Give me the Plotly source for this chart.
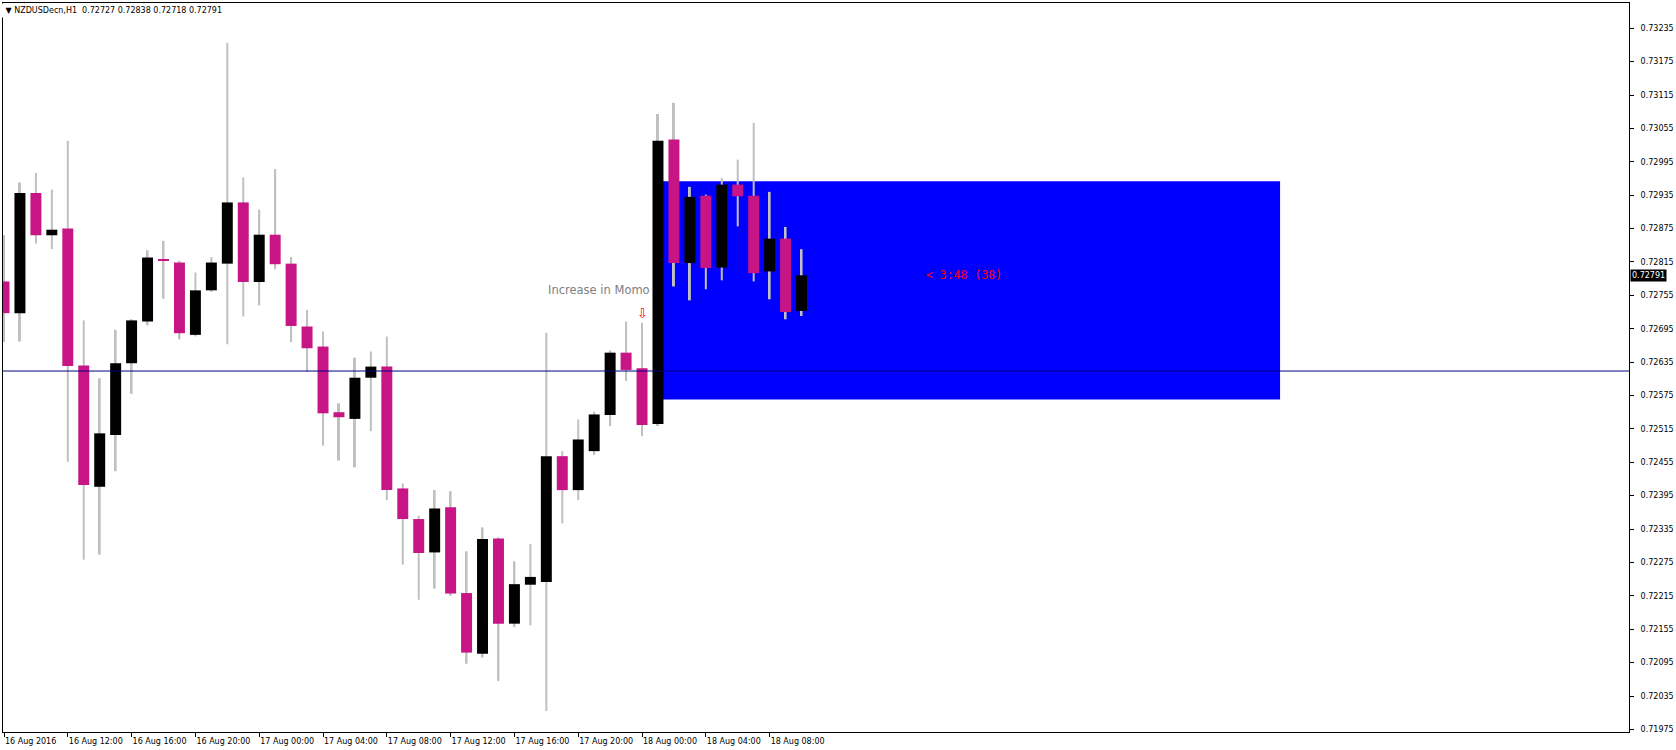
import pandas as pd
import plotly.graph_objects as go

# ---------------- data (NZDUSDecn, H1) ----------------
times = pd.date_range("2016-08-16 08:00", periods=51, freq="h")

opens = [0.72780, 0.72723, 0.72939, 0.72863, 0.72875, 0.72629, 0.72411, 0.72504, 0.72633, 0.72708,
         0.72820, 0.72814, 0.72684, 0.72764, 0.72812, 0.72922, 0.72779, 0.72864, 0.72812, 0.72699,
         0.72663, 0.72545, 0.72533, 0.72607, 0.72627, 0.72408, 0.72353, 0.72293, 0.72374, 0.72220,
         0.72111, 0.72318, 0.72165, 0.72235, 0.72240, 0.72466, 0.72405, 0.72475, 0.72540, 0.72652,
         0.72624, 0.72524, 0.73035, 0.72813, 0.72934, 0.72805, 0.72954, 0.72934, 0.72798, 0.72857,
         0.72727]
highs = [0.72863, 0.72958, 0.72975, 0.72945, 0.73033, 0.72710, 0.72606, 0.72693, 0.72712, 0.72836,
         0.72853, 0.72817, 0.72796, 0.72824, 0.73209, 0.72967, 0.72909, 0.72982, 0.72824, 0.72729,
         0.72690, 0.72561, 0.72643, 0.72654, 0.72681, 0.72417, 0.72359, 0.72405, 0.72403, 0.72295,
         0.72338, 0.72320, 0.72277, 0.72308, 0.72688, 0.72475, 0.72532, 0.72546, 0.72656, 0.72708,
         0.72706, 0.73081, 0.73101, 0.72950, 0.72936, 0.72966, 0.72999, 0.73065, 0.72941, 0.72878,
         0.72838]
lows = [0.72671, 0.72672, 0.72848, 0.72838, 0.72456, 0.72280, 0.72289, 0.72439, 0.72578, 0.72701,
        0.72749, 0.72676, 0.72681, 0.72761, 0.72667, 0.72717, 0.72737, 0.72802, 0.72671, 0.72617,
        0.72485, 0.72458, 0.72446, 0.72511, 0.72387, 0.72271, 0.72208, 0.72228, 0.72215, 0.72093,
        0.72104, 0.72062, 0.72159, 0.72162, 0.72008, 0.72345, 0.72387, 0.72468, 0.72520, 0.72601,
        0.72502, 0.72520, 0.72771, 0.72746, 0.72766, 0.72782, 0.72879, 0.72780, 0.72748, 0.72712,
        0.72718]
closes = [0.72723, 0.72939, 0.72863, 0.72873, 0.72628, 0.72414, 0.72507, 0.72633, 0.72710, 0.72823,
          0.72817, 0.72687, 0.72764, 0.72814, 0.72922, 0.72779, 0.72864, 0.72811, 0.72700, 0.72660,
          0.72543, 0.72536, 0.72607, 0.72627, 0.72405, 0.72353, 0.72292, 0.72372, 0.72219, 0.72113,
          0.72317, 0.72165, 0.72236, 0.72249, 0.72466, 0.72405, 0.72496, 0.72541, 0.72652, 0.72621,
          0.72522, 0.73033, 0.72813, 0.72932, 0.72804, 0.72954, 0.72933, 0.72795, 0.72857, 0.72725,
          0.72791]

x_tick_times = pd.date_range("2016-08-16 08:00", "2016-08-18 08:00", freq="4h")
x_tick_labels = ["16 Aug 2016", "16 Aug 12:00", "16 Aug 16:00", "16 Aug 20:00",
                 "17 Aug 00:00", "17 Aug 04:00", "17 Aug 08:00", "17 Aug 12:00",
                 "17 Aug 16:00", "17 Aug 20:00", "18 Aug 00:00", "18 Aug 04:00",
                 "18 Aug 08:00"]
y_tick_values = [round(0.71975 + 0.0006 * k, 5) for k in range(22)]

level_line = 0.72619
zone_start = times[41]
zone_end = pd.Timestamp("2016-08-19 16:00")
zone_top = 0.72960
zone_bottom = 0.72568
signal_bar = 40
signal_price = 0.72722
signal_text = "Increase in Momo"
countdown_text = "< 3:48 (38)"
countdown_time = pd.Timestamp("2016-08-18 17:40")
title_text = "\u00a0\u25bc NZDUSDecn,H1 \u00a00.72727 0.72838 0.72718 0.72791"

# ---------------- styling ----------------
BULL = "#000000"
BEAR = "#C71585"
WICK = "#C0C0C0"
HOUR_MS = 3600000
FONT = "DejaVu Sans"

body_base = [min(o, c) for o, c in zip(opens, closes)]
body_len = [max(abs(c - o), 0.00002) for o, c in zip(opens, closes)]
body_col = [BULL if c >= o else BEAR for o, c in zip(opens, closes)]
wick_len = [h - l for h, l in zip(highs, lows)]

fig = go.Figure()
fig.add_trace(go.Bar(x=times, y=wick_len, base=lows, width=HOUR_MS * 2 / 16,
                     marker=dict(color=WICK, line=dict(width=0)), hoverinfo="skip"))
fig.add_trace(go.Bar(x=times, y=body_len, base=body_base, width=HOUR_MS * 11 / 16,
                     marker=dict(color=body_col, line=dict(width=0)), hoverinfo="skip"))

x_start = times[0] - pd.Timedelta(minutes=3.75)
x_end = x_start + pd.Timedelta(hours=1631 / 16)

fig.update_layout(
    width=1676, height=750,
    margin=dict(l=2, r=43, t=2, b=18),
    paper_bgcolor="white", plot_bgcolor="white",
    barmode="overlay", showlegend=False,
    font=dict(family=FONT, size=8, color="black"),
    xaxis=dict(type="date", range=[x_start, x_end], showgrid=False, zeroline=False,
               showline=True, linecolor="black", linewidth=1, mirror=True,
               ticks="outside", ticklen=4, tickcolor="black", tickwidth=1,
               tickvals=list(x_tick_times), ticktext=x_tick_labels,
               ticklabelposition="outside right", ticklabelstandoff=1,
               tickfont=dict(family=FONT, size=8, color="black")),
    yaxis=dict(side="right", range=[0.719703, 0.732804], showgrid=False, zeroline=False,
               showline=True, linecolor="black", linewidth=1, mirror=True,
               ticks="outside", ticklen=4, tickcolor="black", tickwidth=1,
               tickvals=y_tick_values, tickformat=".5f", ticklabelstandoff=5,
               tickfont=dict(family=FONT, size=8, color="black")),
)

fig.add_shape(type="rect", xref="x", yref="y", x0=zone_start, x1=zone_end,
              y0=zone_bottom, y1=zone_top, fillcolor="#0000FF",
              line=dict(width=0), layer="below")
fig.add_shape(type="line", xref="paper", yref="y", x0=0, x1=1, y0=level_line, y1=level_line,
              line=dict(color="#000080", width=1), layer="above")

fig.add_annotation(x=times[signal_bar], y=0.72764, xref="x", yref="y",
                   text=signal_text, showarrow=False, xanchor="right", yanchor="middle",
                   xshift=10, font=dict(family=FONT, size=11.5, color="#808080"))
fig.add_annotation(x=times[signal_bar], y=signal_price, xref="x", yref="y",
                   text="\u21e9", showarrow=False, xanchor="center", yanchor="middle",
                   font=dict(family=FONT, size=13, color="#FF0000"))
fig.add_annotation(x=countdown_time, y=closes[-1], xref="x", yref="y",
                   text=countdown_text, showarrow=False, xanchor="left", yanchor="middle",
                   font=dict(family="DejaVu Sans Mono", size=11.5, color="#FF0000"))
fig.add_annotation(x=1, y=closes[-1], xref="paper", yref="y",
                   text=f"{closes[-1]:.5f}", showarrow=False, xanchor="left", yanchor="middle",
                   xshift=1, bgcolor="black", borderpad=1,
                   font=dict(family=FONT, size=8, color="white"))
fig.add_annotation(x=0, y=1, xref="paper", yref="paper", text=title_text,
                   showarrow=False, xanchor="left", yanchor="top", xshift=-3,
                   bgcolor="white", borderpad=2,
                   font=dict(family=FONT, size=8, color="black"))

fig.write_html("out.html", config={"displayModeBar": False},
               post_script="document.body.style.margin='0';document.body.style.padding='0';")
